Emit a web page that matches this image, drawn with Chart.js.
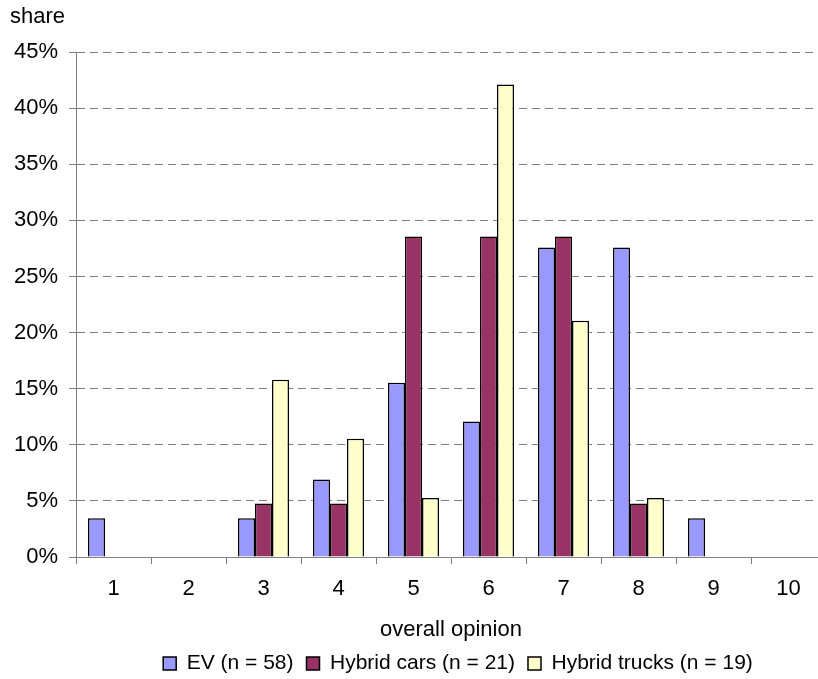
<!DOCTYPE html>
<html>
<head>
<meta charset="utf-8">
<script src="https://cdn.jsdelivr.net/npm/chart.js@4.4.1/dist/chart.umd.min.js"></script>
<style>
  html, body { margin: 0; padding: 0; background: #fff; overflow: hidden; }
  #wrap { width: 830px; height: 684px; }
</style>
</head>
<body>
<div id="wrap"><canvas id="chart" width="830" height="684"></canvas></div>
<script>
// Data (share in %)
const opinions = ['1', '2', '3', '4', '5', '6', '7', '8', '9', '10'];
const ev = [3.45, 0, 3.45, 6.9, 15.52, 12.07, 27.59, 27.59, 3.45, 0];
const hybridCars = [0, 0, 4.76, 4.76, 28.57, 28.57, 28.57, 4.76, 0, 0];
const hybridTrucks = [0, 0, 15.79, 10.53, 5.26, 42.11, 21.05, 5.26, 0, 0];
const seriesNames = ['EV (n = 58)', 'Hybrid cars (n = 21)', 'Hybrid trucks (n = 19)'];

Chart.defaults.font.family = "Arial, 'Liberation Sans', sans-serif";
Chart.defaults.font.size = 22;
Chart.defaults.color = '#000';

const axisGray = '#808080';

const data = {
    labels: opinions,
    datasets: [
        { label: seriesNames[0], data: ev, backgroundColor: '#9999FF' },
        { label: seriesNames[1], data: hybridCars, backgroundColor: '#993366' },
        { label: seriesNames[2], data: hybridTrucks, backgroundColor: '#FFFFCC' }
    ].map(d => Object.assign(d, {
        borderColor: '#000',
        borderWidth: 1.5,
        categoryPercentage: 0.68,
        barPercentage: 1
    }))
};

// legend sits a bit right of the plot centre in the original
const legendShift = {
    id: 'legendShift',
    afterLayout(chart) {
        chart.legend.left += 7;
        chart.legend.right += 7;
    }
};

const config = {
    type: 'bar',
    data: data,
    plugins: [legendShift],
    options: {
        responsive: false,
        animation: false,
        devicePixelRatio: 1,
        layout: { padding: { left: 10, right: 4, top: 0, bottom: 0 } },
        plugins: {
            title: {
                display: true,
                text: 'share',
                align: 'start',
                font: { size: 22, weight: 'normal' },
                padding: { top: 3.8, bottom: 21.8 }
            },
            legend: {
                position: 'bottom',
                fullSize: false,
                labels: { boxWidth: 13, boxHeight: 13, padding: 13, color: '#000', font: { size: 21 } }
            },
            tooltip: { enabled: true }
        },
        scales: {
            x: {
                grid: {
                    display: true,
                    drawOnChartArea: false,
                    offset: true,
                    tickLength: 7,
                    color: axisGray,
                    tickColor: axisGray
                },
                border: { display: true, color: axisGray, width: 1 },
                ticks: { padding: 12 },
                title: {
                    display: true,
                    text: 'overall opinion',
                    padding: { top: 0, bottom: -3 }
                },
                afterFit(scale) { scale.height = 83; }
            },
            y: {
                min: 0,
                max: 45,
                ticks: { stepSize: 5, padding: 11, callback: v => v + '%' },
                grid: {
                    color: axisGray,
                    tickLength: 7,
                    tickColor: axisGray,
                    tickBorderDash: []
                },
                border: { display: true, color: axisGray, width: 1, dash: [8, 5] },
                afterFit(scale) { scale.width = 66; }
            }
        }
    }
};

const chart = new Chart(document.getElementById('chart'), config);
</script>
</body>
</html>
